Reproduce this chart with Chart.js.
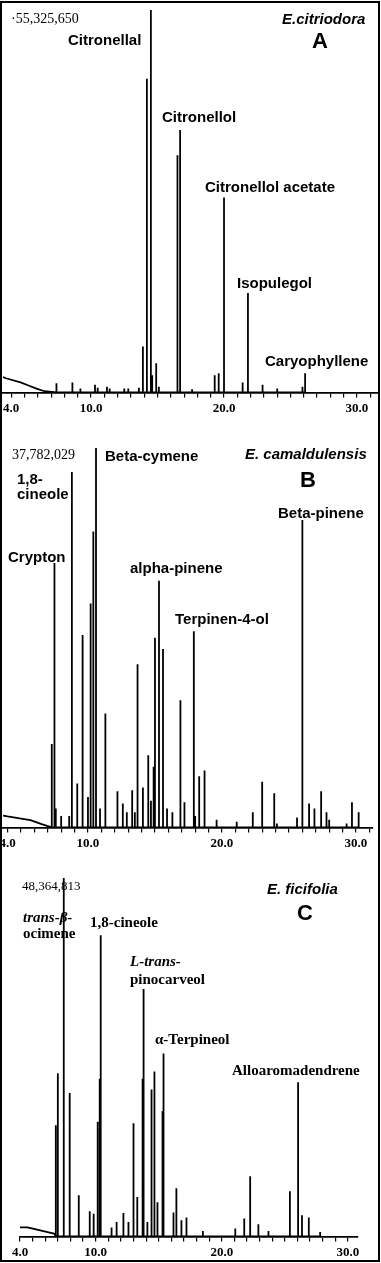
<!DOCTYPE html>
<html>
<head>
<meta charset="utf-8">
<script src="https://cdn.jsdelivr.net/npm/chart.js@4.4.0/dist/chart.umd.min.js"></script>
<style>
  body { margin: 0; background: #fff; }
  #page { position: relative; width: 381px; height: 1263px; overflow: hidden; background: #fff; }
  canvas { position: absolute; left: -20px; }
  .frame { position: absolute; left: 0; top: 1px; width: 380px; height: 1261px; border: 2px solid #000; box-sizing: border-box; pointer-events: none; }
  .lbl { position: absolute; white-space: nowrap; line-height: 1; color: #000; }
  .sans { font: bold 15px "Liberation Sans", Arial, sans-serif; }
  .serif { font: bold 15px "Liberation Serif", "Times New Roman", serif; }
  .num { font: 14px "Liberation Serif", "Times New Roman", serif; }
  .sp { font: italic bold 15px "Liberation Sans", Arial, sans-serif; }
  .big { font: bold 22px "Liberation Sans", Arial, sans-serif; width: 40px; text-align: center; }
</style>
</head>
<body>
<div id="page">
  <canvas id="chartA" width="398" height="419" style="top:0px"></canvas>
  <canvas id="chartB" width="398" height="434" style="top:420px"></canvas>
  <canvas id="chartC" width="398" height="413" style="top:850px"></canvas>

  <!-- panel A -->
  <div class="lbl num" style="left:11px;top:11px">·55,325,650</div>
  <div class="lbl sans" style="left:68px;top:31px">Citronellal</div>
  <div class="lbl sp" style="left:282px;top:10px">E.citriodora</div>
  <div class="lbl big" style="left:300px;top:28px">A</div>
  <div class="lbl sans" style="left:162px;top:108px">Citronellol</div>
  <div class="lbl sans" style="left:205px;top:178px">Citronellol acetate</div>
  <div class="lbl sans" style="left:237px;top:274px">Isopulegol</div>
  <div class="lbl sans" style="left:265px;top:352px">Caryophyllene</div>

  <!-- panel B -->
  <div class="lbl num" style="left:12px;top:447px">37,782,029</div>
  <div class="lbl sans" style="left:105px;top:447px">Beta-cymene</div>
  <div class="lbl sp" style="left:245px;top:445px">E. camaldulensis</div>
  <div class="lbl big" style="left:288px;top:467px">B</div>
  <div class="lbl sans" style="left:17px;top:470px">1,8-</div>
  <div class="lbl sans" style="left:17px;top:485px">cineole</div>
  <div class="lbl sans" style="left:278px;top:504px">Beta-pinene</div>
  <div class="lbl sans" style="left:8px;top:548px">Crypton</div>
  <div class="lbl sans" style="left:130px;top:559px">alpha-pinene</div>
  <div class="lbl sans" style="left:175px;top:610px">Terpinen-4-ol</div>

  <!-- panel C -->
  <div class="lbl num" style="left:22px;top:878px;font-size:13px">48,364,813</div>
  <div class="lbl sp" style="left:267px;top:880px">E. ficifolia</div>
  <div class="lbl big" style="left:285px;top:900px">C</div>
  <div class="lbl serif" style="left:23px;top:909px"><i>trans-β-</i></div>
  <div class="lbl serif" style="left:23px;top:925px">ocimene</div>
  <div class="lbl serif" style="left:90px;top:914px">1,8-cineole</div>
  <div class="lbl serif" style="left:130px;top:953px"><i>L-trans-</i></div>
  <div class="lbl serif" style="left:130px;top:971px">pinocarveol</div>
  <div class="lbl serif" style="left:155px;top:1031px">α-Terpineol</div>
  <div class="lbl serif" style="left:232px;top:1062px">Alloaromadendrene</div>

  <div class="frame"></div>
</div>

<script>
// retention time (min) and relative abundance (% of tallest peak)
const peakTimesA = [7.4, 8.6, 9.2, 10.3, 10.5, 11.2, 11.4, 12.5, 12.8, 13.6, 13.9, 14.2, 14.5, 14.6, 14.9, 15.1, 16.5, 16.7, 17.6, 19.3, 19.6, 20.0, 21.4, 21.8, 22.9, 24.0, 25.9, 26.1];
const peakHeightsA = [2.4, 2.6, 1.0, 2.0, 1.2, 1.5, 1.0, 1.0, 1.0, 1.2, 12, 82, 100, 4.5, 7.6, 1.5, 62, 68.6, 0.8, 4.5, 5, 51, 2.6, 26, 2, 1, 1.5, 5];
const tailTimesA = [3.38, 3.6, 4.7, 5.3, 5.9, 6.5];
const tailHeightsA = [4.0, 3.7, 2.6, 1.8, 1.0, 0.3];

const peakTimesB = [7.3, 7.5, 7.6, 8.0, 8.6, 8.8, 9.2, 9.6, 10.0, 10.2, 10.4, 10.6, 10.9, 11.3, 12.2, 12.6, 12.9, 13.3, 13.5, 13.7, 14.1, 14.5, 14.7, 14.9, 15.0, 15.3, 15.6, 15.9, 16.3, 16.9, 17.2, 17.9, 18.0, 18.3, 18.7, 19.6, 21.1, 22.3, 23.0, 23.9, 24.1, 25.6, 26.0, 26.5, 26.9, 27.4, 27.8, 28.0, 29.3, 29.7, 30.2];
const peakHeightsB = [22, 69.7, 5, 3, 3, 93.7, 11.6, 50.7, 8, 59, 78, 100, 5, 30, 9.5, 6.3, 4, 9.8, 4, 43, 10.5, 19, 7, 16, 50, 65, 47, 5, 4, 33.5, 6.6, 51.7, 3, 13.5, 15, 2, 1.5, 4, 12, 9, 1, 2.6, 81, 6.3, 5, 9.5, 4, 2, 1, 6.6, 4];
const tailTimesB = [3.66, 4.0, 4.9, 5.7, 6.6];
const tailHeightsB = [3.1, 2.9, 2.4, 1.9, 0.8];

const peakTimesC = [6.84, 7.0, 7.47, 7.94, 8.66, 9.53, 9.84, 10.16, 10.32, 10.4, 11.26, 11.66, 12.2, 12.6, 13.0, 13.3, 13.72, 13.8, 14.1, 14.43, 14.66, 14.9, 15.3, 15.38, 16.17, 16.4, 16.8, 17.2, 18.5, 21.07, 21.78, 22.25, 22.9, 23.7, 25.4, 26.05, 26.36, 26.9, 27.8];
const peakHeightsC = [31, 45.5, 100, 40, 11.5, 7, 6.3, 32, 44, 84, 2.5, 4, 6.5, 4, 31.6, 11, 44, 69, 4, 41, 46, 9.5, 35, 51, 6.7, 13.4, 4.5, 5.3, 1.5, 2.2, 5, 16.8, 3.4, 1.5, 12.6, 43, 5.9, 5.3, 1.2];
const tailTimesC = [4.0, 4.6, 5.6, 6.7];
const tailHeightsC = [2.5, 2.5, 1.7, 0.8];

// x-axis ticks (min) and the ones that get a label
const tickValues = [4, 5, 6, 7, 8, 9, 10, 11, 12, 13, 14, 15, 16, 17, 18, 19, 20, 21, 22, 23, 24, 25, 26, 27, 28, 29, 30, 31];
const labelledTicks = [4, 10, 20, 30];

// turn the peak list into a trace: baseline -> apex -> baseline
function trace(tailT, tailH, peakT, peakH) {
  const pts = [];
  tailT.forEach((t, i) => pts.push({ x: t, y: tailH[i] }));
  peakT.forEach((t, i) => {
    pts.push({ x: t, y: 0 });
    pts.push({ x: t, y: peakH[i] });
    pts.push({ x: t, y: 0 });
  });
  return pts;
}

function makeChart(id, data, xMin, xMax, pad) {
  new Chart(document.getElementById(id), {
    type: 'line',
    data: {
      datasets: [{
        data: data,
        borderColor: '#000',
        borderWidth: 1.8,
        borderJoinStyle: 'bevel',
        pointRadius: 0,
        tension: 0,
        fill: false
      }]
    },
    options: {
      responsive: false,
      animation: false,
      layout: { padding: pad },
      plugins: { legend: { display: false }, tooltip: { enabled: false } },
      scales: {
        x: {
          type: 'linear',
          min: xMin,
          max: xMax,
          afterBuildTicks: axis => {
            axis.ticks = tickValues.filter(v => v >= xMin && v <= xMax).map(v => ({ value: v }));
          },
          grid: { drawOnChartArea: false, drawTicks: true, tickLength: 5, color: '#000', lineWidth: 1.2 },
          border: { display: true, color: '#000', width: 1.8 },
          ticks: {
            autoSkip: false,
            maxRotation: 0,
            padding: 3,
            color: '#000',
            font: { family: 'Liberation Serif', weight: 'bold', size: 13 },
            callback: v => labelledTicks.includes(v) ? v.toFixed(1) : ''
          }
        },
        y: { display: false, min: 0, max: 100 }
      }
    }
  });
}

makeChart('chartA', trace(tailTimesA, tailHeightsA, peakTimesA, peakHeightsA), 3.38, 31.58, { top: 10, left: 23, right: 0, bottom: 0 });
makeChart('chartB', trace(tailTimesB, tailHeightsB, peakTimesB, peakHeightsB), 3.66, 31.27, { top: 28, left: 23, right: 5, bottom: 0 });
makeChart('chartC', trace(tailTimesC, tailHeightsC, peakTimesC, peakHeightsC), 4.0, 30.8, { top: 28, left: 40, right: 20, bottom: 0 });
</script>
</body>
</html>
